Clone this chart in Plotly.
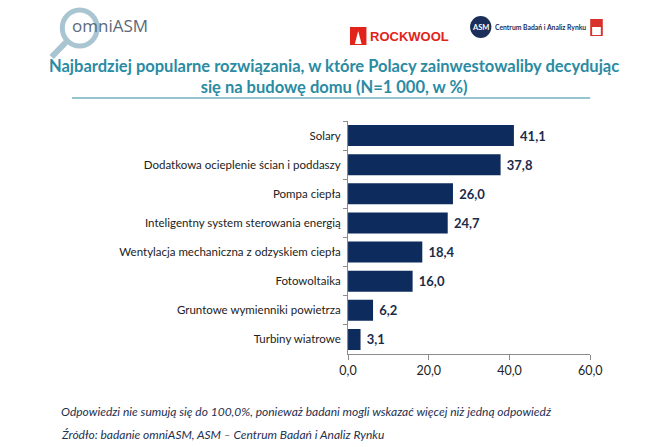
import plotly.graph_objects as go

categories = ["Solary", "Dodatkowa ocieplenie ścian i poddaszy", "Pompa ciepła",
              "Inteligentny system sterowania energią",
              "Wentylacja mechaniczna z odzyskiem ciepła", "Fotowoltaika",
              "Gruntowe wymienniki powietrza", "Turbiny wiatrowe"]
values = [41.1, 37.8, 26.0, 24.7, 18.4, 16.0, 6.2, 3.1]
x_ticks = [0, 20, 40, 60]
x_tick_labels = ["0,0", "20,0", "40,0", "60,0"]

W, H = 670, 447
NAVY = "#0d2b5c"
TEAL = "#2a8ba3"
FONT = "Lato, 'Open Sans', sans-serif"

def fx(px):
    return px / W

def fy(py):
    return 1 - py / H

fig = go.Figure()
fig.add_trace(go.Bar(
    x=values, y=categories, orientation="h",
    marker=dict(color=NAVY, line=dict(width=0)),
    text=[" " + f"{v:.1f}".replace(".", ",") for v in values],
    textposition="outside", cliponaxis=False,
    textfont=dict(family=FONT, size=13, color="#1b2b4a", weight="bold"),
    hoverinfo="skip",
))

fig.update_layout(
    width=W, height=H, margin=dict(l=0, r=0, t=0, b=0),
    paper_bgcolor="white", plot_bgcolor="white",
    bargap=0.28, showlegend=False,
    font=dict(family=FONT, color="#222"),
    xaxis=dict(domain=[fx(350), fx(600)], range=[0, 60], tickvals=x_ticks,
               ticktext=x_tick_labels, showgrid=False, zeroline=False,
               showline=True, linecolor="#8c8c8c", linewidth=1,
               ticks="outside", ticklen=5, tickcolor="#8c8c8c",
               tickfont=dict(size=12.5, color="#222", family=FONT)),
    yaxis=dict(domain=[fy(354), fy(121)], autorange="reversed",
               showgrid=False, zeroline=False, showline=True,
               linecolor="#8c8c8c", linewidth=1, ticks="outside",
               ticklen=4, tickcolor="#8c8c8c", tickson="boundaries",
               tickfont=dict(size=11.5, color="#222", family=FONT),
               ticklabelstandoff=4),
)

# Title
fig.add_annotation(x=fx(335), y=fy(76), xref="paper", yref="paper",
                   text="<b>Najbardziej popularne rozwiązania, w które Polacy zainwestowaliby decydując<br>się na budowę domu (N=1 000, w %)</b>",
                   showarrow=False, align="center", xanchor="center", yanchor="middle",
                   font=dict(family=FONT, size=16.5, color=TEAL))
fig.add_shape(type="line", xref="paper", yref="paper", x0=fx(65), x1=fx(600),
              y0=fy(98), y1=fy(98), line=dict(color=TEAL, width=1.2))

# Footer
fig.add_annotation(x=fx(52), y=fy(411), xref="paper", yref="paper",
                   text="<i>Odpowiedzi nie sumują się do 100,0%, ponieważ badani mogli wskazać więcej niż jedną odpowiedź</i>",
                   showarrow=False, xanchor="left", yanchor="middle",
                   font=dict(family=FONT, size=12, color="#1f3050"))
fig.add_annotation(x=fx(52), y=fy(434), xref="paper", yref="paper",
                   text="<i>Źródło: badanie omniASM, ASM – Centrum Badań i Analiz Rynku</i>",
                   showarrow=False, xanchor="left", yanchor="middle",
                   font=dict(family=FONT, size=12, color="#1f3050"))

# omniASM logo
fig.add_shape(type="circle", xref="paper", yref="paper",
              x0=fx(55), x1=fx(91), y0=fy(10), y1=fy(46),
              line=dict(color="#a8c5d1", width=5))
fig.add_shape(type="line", xref="paper", yref="paper",
              x0=fx(60), y0=fy(41), x1=fx(44), y1=fy(57),
              line=dict(color="#a8c5d1", width=6))
fig.add_annotation(x=fx(63), y=fy(26), xref="paper", yref="paper", text="omniASM",
                   showarrow=False, xanchor="left", yanchor="middle",
                   font=dict(family="Open Sans, sans-serif", size=17, color="#5b6a78"))

# ROCKWOOL logo
fig.add_shape(type="rect", xref="paper", yref="paper",
              x0=fx(352), x1=fx(369), y0=fy(27), y1=fy(45),
              fillcolor="#e2231a", line=dict(width=0))
fig.add_shape(type="path", xref="paper", yref="paper",
              path=f"M {fx(357)} {fy(44)} L {fx(360.5)} {fy(31)} L {fx(364)} {fy(44)} Z",
              fillcolor="white", line=dict(width=0))
fig.add_annotation(x=fx(371), y=fy(36), xref="paper", yref="paper", text="<b>ROCKWOOL</b>",
                   showarrow=False, xanchor="left", yanchor="middle",
                   font=dict(family="Liberation Sans, sans-serif", size=13, color="#e2231a"))

# ASM logo
fig.add_shape(type="circle", xref="paper", yref="paper",
              x0=fx(476), x1=fx(498), y0=fy(16), y1=fy(38),
              fillcolor="#1c2e5a", line=dict(width=0))
fig.add_annotation(x=fx(487), y=fy(27), xref="paper", yref="paper", text="<b>ASM</b>",
                   showarrow=False, xanchor="center", yanchor="middle",
                   font=dict(family=FONT, size=7.5, color="white"))
fig.add_annotation(x=fx(500), y=fy(27), xref="paper", yref="paper",
                   text="<b>Centrum Badań i Analiz Rynku</b>",
                   showarrow=False, xanchor="left", yanchor="middle",
                   font=dict(family=FONT, size=6.8, color="#1c2e5a"))
fig.add_shape(type="rect", xref="paper", yref="paper",
              x0=fx(600), x1=fx(613), y0=fy(19), y1=fy(36),
              fillcolor="#d9302b", line=dict(width=0))
fig.add_shape(type="rect", xref="paper", yref="paper",
              x0=fx(602), x1=fx(611), y0=fy(27), y1=fy(35),
              fillcolor="white", line=dict(width=0))

fig.write_html("out.html")
